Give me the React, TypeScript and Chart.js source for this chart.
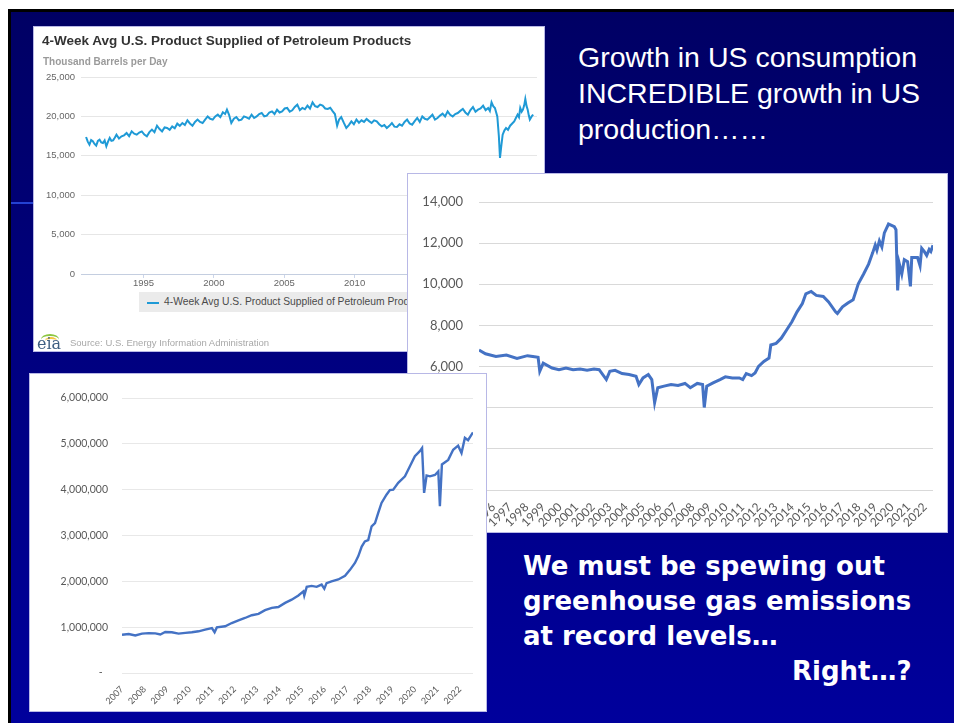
import React, { useEffect, useRef } from "react";
import { Chart, registerables } from "chart.js";

Chart.register(...registerables);
Chart.defaults.font.family = "'Liberation Sans', Arial, sans-serif";

// ---------- Chart 1: 4-week avg US product supplied (thousand b/d) ----------
const consumptionYears = [
  1990.92, 1991.04, 1991.16, 1991.28, 1991.4, 1991.52, 1991.64, 1991.76, 1991.88, 1992.0,
  1992.12, 1992.24, 1992.36, 1992.48, 1992.6, 1992.72, 1992.84, 1992.96, 1993.08, 1993.26,
  1993.44, 1993.62, 1993.8, 1993.98, 1994.16, 1994.34, 1994.52, 1994.7, 1994.88, 1995.06,
  1995.24, 1995.42, 1995.6, 1995.78, 1995.96, 1996.14, 1996.32, 1996.5, 1996.68, 1996.86,
  1997.04, 1997.22, 1997.4, 1997.58, 1997.76, 1997.94, 1998.12, 1998.3, 1998.48, 1998.66,
  1998.84, 1999.02, 1999.2, 1999.38, 1999.56, 1999.74, 1999.92, 2000.1, 2000.28, 2000.46,
  2000.64, 2000.8, 2000.93, 2001.08, 2001.24, 2001.42, 2001.6, 2001.78, 2001.96, 2002.14,
  2002.32, 2002.5, 2002.68, 2002.86, 2003.04, 2003.22, 2003.4, 2003.58, 2003.76, 2003.94,
  2004.13, 2004.31, 2004.49, 2004.67, 2004.85, 2005.03, 2005.21, 2005.39, 2005.57, 2005.75,
  2005.93, 2006.11, 2006.29, 2006.47, 2006.65, 2006.83, 2007.01, 2007.19, 2007.37, 2007.55,
  2007.73, 2007.91, 2008.09, 2008.27, 2008.45, 2008.6, 2008.76, 2008.9, 2009.05, 2009.23,
  2009.41, 2009.59, 2009.77, 2009.95, 2010.13, 2010.31, 2010.49, 2010.67, 2010.85, 2011.03,
  2011.21, 2011.39, 2011.57, 2011.75, 2011.93, 2012.11, 2012.29, 2012.47, 2012.65, 2012.83,
  2013.01, 2013.19, 2013.37, 2013.55, 2013.73, 2013.91, 2014.09, 2014.27, 2014.45, 2014.63,
  2014.81, 2014.99, 2015.17, 2015.35, 2015.53, 2015.71, 2015.89, 2016.07, 2016.25, 2016.43,
  2016.61, 2016.79, 2016.97, 2017.15, 2017.33, 2017.51, 2017.69, 2017.87, 2018.05, 2018.23,
  2018.41, 2018.59, 2018.77, 2018.95, 2019.13, 2019.31, 2019.49, 2019.61, 2019.73, 2019.85,
  2019.97, 2020.14, 2020.25, 2020.33, 2020.42, 2020.52, 2020.64, 2020.76, 2020.9, 2021.05,
  2021.2, 2021.34, 2021.46, 2021.58, 2021.68, 2021.77, 2021.87, 2021.96, 2022.05, 2022.13,
  2022.22, 2022.3, 2022.38, 2022.45, 2022.58, 2022.69,
];
const consumptionValues = [
  17390, 16800, 16410, 17000, 16840, 16500, 16290, 16900, 17050, 16700,
  16620, 16950, 16200, 16800, 17260, 16900, 16960, 17300, 17680, 17200,
  17470, 17600, 17890, 17500, 18100, 17800, 17680, 17950, 18100, 17700,
  17470, 18000, 18320, 18000, 18820, 18400, 18100, 18600, 18530, 18300,
  18740, 18500, 19080, 18800, 19160, 18900, 19500, 19100, 18820, 19300,
  19590, 19300, 19160, 19600, 20000, 19700, 19590, 20000, 20220, 19900,
  20520, 20300, 20850, 20200, 19160, 19700, 19920, 19500, 19590, 20000,
  19880, 19700, 20220, 19800, 20000, 20300, 20430, 20000, 20090, 20500,
  20640, 20300, 20850, 20500, 20640, 21000, 21070, 20600, 20770, 21200,
  21490, 20800, 21070, 20900, 21360, 21000, 21790, 21300, 21190, 21500,
  21360, 21000, 20940, 21100, 20640, 20300, 18820, 19600, 19920, 19200,
  18530, 18900, 19370, 19000, 19590, 19200, 19500, 19300, 19670, 19400,
  19160, 19500, 19370, 19000, 18740, 18900, 18530, 18800, 19160, 18700,
  18650, 19000, 18820, 19300, 19590, 19100, 18950, 19400, 19800, 19300,
  20000, 19700, 19590, 19900, 20220, 19600, 19800, 20100, 20350, 20000,
  20640, 20200, 20000, 20300, 20430, 20700, 20940, 20500, 20220, 20800,
  21190, 20600, 20850, 21000, 21360, 20800, 21070, 20700, 21790, 21300,
  21070, 20000, 17500, 14720, 16200, 17680, 18200, 18530, 18300, 18820,
  19100, 19370, 19800, 20220, 19900, 21070, 20600, 20850, 21400, 22210,
  21300, 20850, 20100, 19590, 20000, 20220,
];
const consumptionXTicks = [1995, 2000, 2005, 2010, 2015, 2020];
const consumptionYTicks = [0, 5000, 10000, 15000, 20000, 25000];

// ---------- Chart 2: US crude production (thousand b/d) ----------
const productionYears = [
  1995.13, 1995.52, 1996.15, 1996.78, 1997.42, 1998.05, 1998.37, 1998.69, 1998.79, 1999.0,
  1999.53, 1999.95, 2000.37, 2000.8, 2001.22, 2001.64, 2002.06, 2002.37, 2002.8, 2003.01,
  2003.33, 2003.75, 2004.17, 2004.59, 2004.76, 2005.01, 2005.33, 2005.54, 2005.71, 2005.9,
  2006.28, 2006.7, 2007.12, 2007.54, 2007.86, 2008.28, 2008.6, 2008.7, 2008.85, 2009.23,
  2009.65, 2009.97, 2010.39, 2010.81, 2011.02, 2011.23, 2011.55, 2011.76, 2011.97, 2012.29,
  2012.6, 2012.71, 2013.03, 2013.34, 2013.66, 2013.98, 2014.29, 2014.61, 2014.82, 2015.14,
  2015.45, 2015.87, 2016.19, 2016.61, 2016.72, 2017.03, 2017.35, 2017.67, 2017.98, 2018.3,
  2018.6, 2018.85, 2019.0, 2019.1, 2019.25, 2019.4, 2019.55, 2019.8, 2019.95, 2020.15,
  2020.25, 2020.35, 2020.45, 2020.6, 2020.75, 2020.95, 2021.12, 2021.2, 2021.55, 2021.7,
  2021.8, 2021.95, 2022.1, 2022.25, 2022.35, 2022.48,
];
const productionValues = [
  6800, 6620, 6490, 6560, 6400, 6530, 6490, 6450, 5770, 6170,
  5930, 5850, 5930, 5850, 5880, 5820, 5880, 5850, 5370, 5770,
  5820, 5660, 5610, 5530, 5130, 5450, 5610, 5370, 4250, 4970,
  5050, 5130, 5080, 5180, 4970, 5180, 5130, 4010, 5050, 5210,
  5370, 5500, 5450, 5450, 5370, 5660, 5560, 5690, 6010, 6250,
  6410, 7050, 7130, 7380, 7780, 8180, 8660, 9060, 9540, 9650,
  9460, 9410, 9140, 8660, 8580, 8900, 9090, 9250, 10020, 10500,
  10980, 11540, 11910, 11660, 12110, 11820, 12500, 12930, 12880, 12800,
  12650, 9700, 11000, 10500, 11200, 11100, 9900, 11300, 11300, 10900,
  11750, 11600, 11400, 11700, 11600, 11900,
];
const productionXTicks = [
  1996, 1997, 1998, 1999, 2000, 2001, 2002, 2003, 2004, 2005, 2006, 2007, 2008, 2009,
  2010, 2011, 2012, 2013, 2014, 2015, 2016, 2017, 2018, 2019, 2020, 2021, 2022,
];
const productionYTicks = [0, 2000, 4000, 6000, 8000, 10000, 12000, 14000];

// ---------- Chart 3: gas production ----------
const gasYears = [
  2007.0, 2007.3, 2007.59, 2007.89, 2008.18, 2008.48, 2008.7, 2008.92, 2009.21, 2009.51,
  2009.81, 2010.1, 2010.4, 2010.69, 2010.99, 2011.11, 2011.21, 2011.58, 2011.87, 2012.17,
  2012.46, 2012.76, 2013.06, 2013.35, 2013.65, 2013.94, 2014.24, 2014.53, 2014.83, 2015.05,
  2015.09, 2015.2, 2015.42, 2015.64, 2015.86, 2015.98, 2016.08, 2016.3, 2016.6, 2016.9,
  2017.12, 2017.34, 2017.49, 2017.64, 2017.78, 2017.93, 2018.08, 2018.23, 2018.37, 2018.52,
  2018.74, 2018.89, 2019.04, 2019.26, 2019.56, 2019.78, 2020.0, 2020.22, 2020.32, 2020.41,
  2020.52, 2020.67, 2020.89, 2021.04, 2021.11, 2021.2, 2021.48, 2021.7, 2021.92, 2022.07,
  2022.22, 2022.36, 2022.58,
];
const gasValues = [
  836000, 850000, 820000, 860000, 870000, 865000, 840000, 895000, 890000, 860000,
  875000, 890000, 910000, 945000, 980000, 890000, 995000, 1020000, 1090000, 1150000,
  1200000, 1260000, 1290000, 1370000, 1420000, 1440000, 1530000, 1600000, 1690000, 1780000,
  1690000, 1880000, 1900000, 1880000, 1930000, 1840000, 1960000, 2000000, 2040000, 2120000,
  2250000, 2400000, 2550000, 2760000, 2870000, 2900000, 3200000, 3270000, 3490000, 3710000,
  3890000, 3990000, 4000000, 4150000, 4290000, 4510000, 4730000, 4840000, 4910000, 3930000,
  4310000, 4290000, 4320000, 4400000, 3640000, 4550000, 4650000, 4870000, 4960000, 4800000,
  5130000, 5080000, 5250000,
];
const gasXTicks = [
  2007, 2008, 2009, 2010, 2011, 2012, 2013, 2014, 2015, 2016, 2017, 2018, 2019, 2020, 2021, 2022,
];
const gasYTicks = [0, 1000000, 2000000, 3000000, 4000000, 5000000, 6000000];

// ---------- helpers ----------
const toPoints = (xs: number[], ys: number[]) => xs.map((x, i) => ({ x, y: ys[i] }));
const fmt = (v: number) => Number(v).toLocaleString("en-US");
const fixedTicks = (values: number[]) => (scale: any) => {
  scale.ticks = values.map((value) => ({ value }));
};

function consumptionConfig(): any {
  return {
    type: "line",
    data: {
      datasets: [
        {
          label: "4-Week Avg U.S. Product Supplied of Petroleum Products",
          data: toPoints(consumptionYears, consumptionValues),
          borderColor: "#1f9ad6",
          borderWidth: 2,
          pointRadius: 0,
          tension: 0,
        },
      ],
    },
    options: {
      animation: false,
      responsive: false,
      events: [],
      layout: { padding: { top: 51, right: 8, bottom: 58, left: 0 } },
      plugins: { legend: { display: false }, tooltip: { enabled: false } },
      scales: {
        x: {
          type: "linear",
          min: 1990.56,
          max: 2022.96,
          afterBuildTicks: fixedTicks(consumptionXTicks),
          afterFit: (s: any) => {
            s.height = 20;
          },
          grid: { display: true, drawOnChartArea: false, drawTicks: true, tickLength: 4, color: "#ccd6eb" },
          border: { display: true, color: "#c4cee0" },
          ticks: {
            autoSkip: false,
            maxRotation: 0,
            minRotation: 0,
            padding: 0,
            color: "#666666",
            font: { size: 9.5 },
            callback: (v: any) => String(v),
          },
        },
        y: {
          type: "linear",
          min: 0,
          max: 25000,
          afterBuildTicks: fixedTicks(consumptionYTicks),
          afterFit: (s: any) => {
            s.width = 48;
          },
          grid: { color: "#e6e6e6", drawTicks: false },
          border: { display: false },
          ticks: { padding: 6, color: "#666666", font: { size: 9.5 }, callback: (v: any) => fmt(v) },
        },
      },
    },
  };
}

function productionConfig(): any {
  return {
    type: "line",
    data: {
      datasets: [
        {
          label: "Production",
          data: toPoints(productionYears, productionValues),
          borderColor: "#4472c4",
          borderWidth: 3,
          pointRadius: 0,
          tension: 0,
        },
      ],
    },
    options: {
      animation: false,
      responsive: false,
      events: [],
      layout: { padding: { top: 29, right: 15, bottom: 0, left: 0 } },
      plugins: { legend: { display: false }, tooltip: { enabled: false } },
      scales: {
        x: {
          type: "linear",
          min: 1995.13,
          max: 2022.48,
          afterBuildTicks: fixedTicks(productionXTicks),
          afterFit: (s: any) => {
            s.height = 43;
          },
          grid: { display: false },
          border: { display: false },
          ticks: {
            autoSkip: false,
            maxRotation: 45,
            minRotation: 45,
            padding: 2,
            color: "#595959",
            font: { family: "Lato, 'Liberation Sans', sans-serif", size: 12 },
            callback: (v: any) => String(v),
          },
        },
        y: {
          type: "linear",
          min: 0,
          max: 14000,
          afterBuildTicks: fixedTicks(productionYTicks),
          afterFit: (s: any) => {
            s.width = 72;
          },
          grid: { color: "#d9d9d9", drawTicks: false },
          border: { display: false },
          ticks: {
            padding: 16,
            color: "#595959",
            font: { family: "Lato, 'Liberation Sans', sans-serif", size: 13 },
            callback: (v: any) => fmt(v),
          },
        },
      },
    },
  };
}

function gasConfig(): any {
  return {
    type: "line",
    data: {
      datasets: [
        {
          label: "Gas",
          data: toPoints(gasYears, gasValues),
          borderColor: "#4472c4",
          borderWidth: 2.4,
          pointRadius: 0,
          tension: 0,
        },
      ],
    },
    options: {
      animation: false,
      responsive: false,
      events: [],
      layout: { padding: { top: 25, right: 14, bottom: 0, left: 0 } },
      plugins: { legend: { display: false }, tooltip: { enabled: false } },
      scales: {
        x: {
          type: "linear",
          min: 2007.0,
          max: 2022.58,
          afterBuildTicks: fixedTicks(gasXTicks),
          afterFit: (s: any) => {
            s.height = 39;
          },
          grid: { display: false },
          border: { display: false },
          ticks: {
            autoSkip: false,
            maxRotation: 45,
            minRotation: 45,
            padding: 3,
            color: "#595959",
            font: { family: "Lato, 'Liberation Sans', sans-serif", size: 9 },
            callback: (v: any) => String(v),
          },
        },
        y: {
          type: "linear",
          min: 0,
          max: 6000000,
          afterBuildTicks: fixedTicks(gasYTicks),
          afterFit: (s: any) => {
            s.width = 93;
          },
          grid: { color: "#e8e8e8", drawTicks: false },
          border: { display: false },
          ticks: {
            padding: 14,
            color: "#595959",
            font: { family: "Lato, 'Liberation Sans', sans-serif", size: 10.5 },
            callback: (v: any) => (Number(v) === 0 ? "-  " : fmt(v)),
          },
        },
      },
    },
  };
}

function ChartCanvas(props: { left: number; top: number; width: number; height: number; build: () => any }) {
  const ref = useRef<HTMLCanvasElement | null>(null);
  useEffect(() => {
    if (!ref.current) return;
    const chart = new Chart(ref.current, props.build());
    return () => chart.destroy();
  }, []);
  return (
    <canvas
      ref={ref}
      width={props.width}
      height={props.height}
      style={{ position: "absolute", left: props.left, top: props.top, width: props.width, height: props.height }}
    />
  );
}

const abs = (left: number, top: number, extra: any = {}) => ({ position: "absolute" as const, left, top, ...extra });
const panelStyle = (left: number, top: number, width: number, height: number) =>
  abs(left, top, { width, height, background: "#ffffff", border: "1px solid #b8b8e6", boxSizing: "border-box" });

export default function App() {
  return (
    <div
      style={{
        position: "fixed",
        left: 0,
        top: 0,
        width: 954,
        height: 723,
        overflow: "hidden",
        background: "#ffffff",
      }}
    >
      {/* slide background */}
      <div
        style={abs(8, 9, {
          width: 946,
          height: 714,
          borderTop: "3px solid #000",
          borderLeft: "3px solid #000",
          boxSizing: "border-box",
          background: "linear-gradient(180deg, #000064 0%, #00007e 45%, #00009c 100%)",
        })}
      />
      <div style={abs(11, 202, { width: 24, height: 2, background: "#2442d2" })} />

      {/* panel 1: EIA chart */}
      <div style={panelStyle(33, 26, 512, 326)} />
      <ChartCanvas left={33} top={26} width={512} height={326} build={consumptionConfig} />
      <div
        style={abs(42, 33, {
          font: "bold 13.5px 'Liberation Sans', Arial, sans-serif",
          lineHeight: "16px",
          color: "#333333",
          whiteSpace: "nowrap",
        })}
      >
        4-Week Avg U.S. Product Supplied of Petroleum Products
      </div>
      <div
        style={abs(43, 56, {
          font: "bold 10px 'Liberation Sans', Arial, sans-serif",
          lineHeight: "12px",
          color: "#9a9a9a",
          whiteSpace: "nowrap",
        })}
      >
        Thousand Barrels per Day
      </div>
      <div style={abs(139, 292, { width: 330, height: 20, background: "#ebebeb" })} />
      <div style={abs(147, 302, { width: 12, height: 2, background: "#1f9ad6" })} />
      <div
        style={abs(164, 296, {
          font: "10.3px 'Liberation Sans', Arial, sans-serif",
          lineHeight: "12px",
          color: "#4a4a4a",
          whiteSpace: "nowrap",
        })}
      >
        4-Week Avg U.S. Product Supplied of Petroleum Products
      </div>
      <div style={abs(41, 334, { width: 18, height: 9, borderTop: "2px solid #8cc63f", borderRadius: "50% 50% 0 0" })} />
      <div style={abs(45, 337, { width: 12, height: 6, borderTop: "2px solid #f5c542", borderRadius: "50% 50% 0 0" })} />
      <div
        style={abs(37, 335, {
          font: "16px 'DejaVu Serif', serif",
          lineHeight: "18px",
          color: "#3f5f82",
          whiteSpace: "nowrap",
        })}
      >
        eia
      </div>
      <div
        style={abs(70, 337, {
          font: "9.5px 'Liberation Sans', Arial, sans-serif",
          lineHeight: "12px",
          color: "#a8a8a8",
          whiteSpace: "nowrap",
        })}
      >
        Source: U.S. Energy Information Administration
      </div>

      {/* panel 2: production chart */}
      <div style={panelStyle(407, 173, 541, 360)} />
      <ChartCanvas left={407} top={173} width={541} height={360} build={productionConfig} />

      {/* panel 3: gas chart */}
      <div style={panelStyle(29, 373, 458, 339)} />
      <ChartCanvas left={29} top={373} width={458} height={339} build={gasConfig} />

      {/* slide texts */}
      <div
        style={abs(578, 39, {
          font: "28.5px 'Liberation Sans', Arial, sans-serif",
          lineHeight: "36px",
          color: "#ffffff",
          whiteSpace: "nowrap",
        })}
      >
        <div>Growth in US consumption</div>
        <div>INCREDIBLE growth in US</div>
        <div>production……</div>
      </div>
      <div
        style={abs(523, 548.5, {
          font: "bold 26px 'DejaVu Sans', Verdana, sans-serif",
          lineHeight: "35px",
          color: "#ffffff",
          whiteSpace: "nowrap",
        })}
      >
        <div>We must be spewing out</div>
        <div>greenhouse gas emissions</div>
        <div>at record levels…</div>
        <div style={{ marginLeft: 269 }}>Right…?</div>
      </div>
    </div>
  );
}
